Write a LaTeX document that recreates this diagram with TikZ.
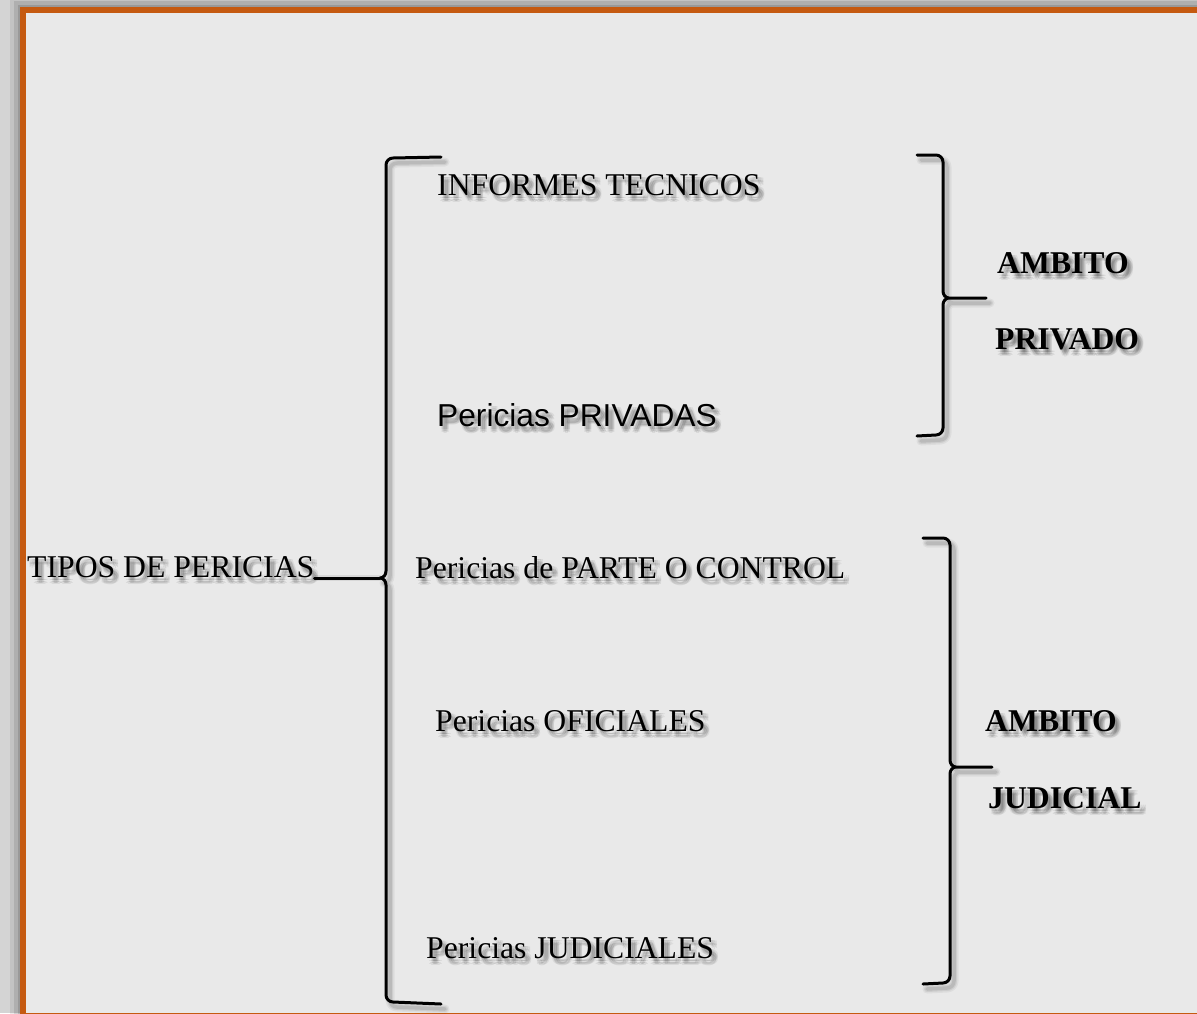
\documentclass[tikz,border=0pt]{standalone}
\usepackage{fontspec}
\setmainfont{Liberation Serif}
\newfontfamily\arialfont{Liberation Sans}
\usetikzlibrary{calc}

\definecolor{pageedge}{HTML}{D4D4D4}
\definecolor{panelfill}{HTML}{E9E9E9}
\definecolor{frameorange}{HTML}{C55A11}

\tikzset{
  lbl/.style={anchor=base west, inner sep=0pt, font=\fontsize{31.7}{36}\selectfont},
  lblbold/.style={lbl, font=\fontsize{31.7}{36}\selectfont\bfseries},
  lblsans/.style={lbl, font=\fontsize{31.7}{36}\selectfont\arialfont},
  brace/.style={line width=3pt, line cap=round, line join=round, draw=black},
  bracefade/.style={line cap=round, line join=round, draw=black, shift={(4,5)}}
}

% text with a soft drop shadow underneath
\newcommand\placelabel[4]{%
  \foreach \sx/\sy [count=\k] in {2/3,4/3,3/5,5/5,4/7,6/6,2/6,6/3}{%
    \node[#1, text opacity=0.065] (#4-shadow-\k) at ($(#2)+(\sx,\sy)$) {#3};}
  \node[#1] (#4) at (#2) {#3};}

% the three brackets
\newcommand\bracketleft[1]{\draw[#1] (441,157) -- (393,158) to[out=180,in=90] (386,165)
  -- (386,571) to[out=-90,in=0] (380,578) to[out=0,in=90] (386,585)
  -- (386,995) to[out=-90,in=180] (393,1002) -- (441,1004);}
\newcommand\bracketprivate[1]{\draw[#1] (917,155) -- (936,155) to[out=0,in=90] (943,162)
  -- (943,291) to[out=-90,in=180] (949,298) to[out=180,in=90] (943,305)
  -- (943,428) to[out=-90,in=0] (936,435) -- (917,436)
  (949,298) -- (986,298);}
\newcommand\bracketjudicial[1]{\draw[#1] (923,538) -- (943,538) to[out=0,in=90] (950,545)
  -- (950,760) to[out=-90,in=180] (956,767) to[out=180,in=90] (950,774)
  -- (950,976) to[out=-90,in=0] (943,983) -- (923,984)
  (956,767) -- (992,767);}
\newcommand\bracketset[1]{\bracketleft{#1}\bracketprivate{#1}\bracketjudicial{#1}}

\begin{document}
\begin{tikzpicture}[x=1pt, y=-1pt]
  \useasboundingbox (0,0) rectangle (1197,1013);
  \clip (0,0) rectangle (1197,1013);

  % page edge with the panel's soft outer shadow
  \fill[pageedge] (0,0) rectangle (1197,1013);
  \foreach \w/\o in {26/0.08,18/0.10,11/0.12}{
    \draw[black, line width=\w pt, opacity=\o] (23,10) rectangle (1215,1016);}

  % panel and its orange frame
  \fill[panelfill] (23,10) rectangle (1215,1016);
  \draw[frameorange, line width=6pt] (23,10) rectangle (1215,1016);

  % bracket shadows, then the brackets
  \bracketset{bracefade, line width=9pt, draw opacity=0.05}
  \bracketset{bracefade, line width=6pt, draw opacity=0.07}
  \bracketset{bracefade, line width=3.5pt, draw opacity=0.09}
  \bracketset{brace}

  % labels
  \placelabel{lbl}{27,577}{TIPOS DE PERICIAS}{tipos}
  \placelabel{lbl}{437,195}{INFORMES TECNICOS}{informes}
  \placelabel{lblsans}{437,426}{Pericias PRIVADAS}{privadas}
  \placelabel{lbl}{415,578}{Pericias de PARTE O CONTROL}{parte}
  \placelabel{lbl}{435,731}{Pericias OFICIALES}{oficiales}
  \placelabel{lbl}{426,958}{Pericias JUDICIALES}{judiciales}
  \placelabel{lblbold}{997,273}{AMBITO}{ambitopriv}
  \placelabel{lblbold}{995,349}{PRIVADO}{privado}
  \placelabel{lblbold}{985,731}{AMBITO}{ambitojud}
  \placelabel{lblbold}{988,808}{JUDICIAL}{judicial}

  % connector from the root label into the left bracket
  \coordinate (leftjoin) at (380,578);
  \draw[bracefade, line width=6pt, draw opacity=0.07] (tipos.base east |- leftjoin) -- (leftjoin);
  \draw[brace] (tipos.base east |- leftjoin) -- (leftjoin);
\end{tikzpicture}
\end{document}
